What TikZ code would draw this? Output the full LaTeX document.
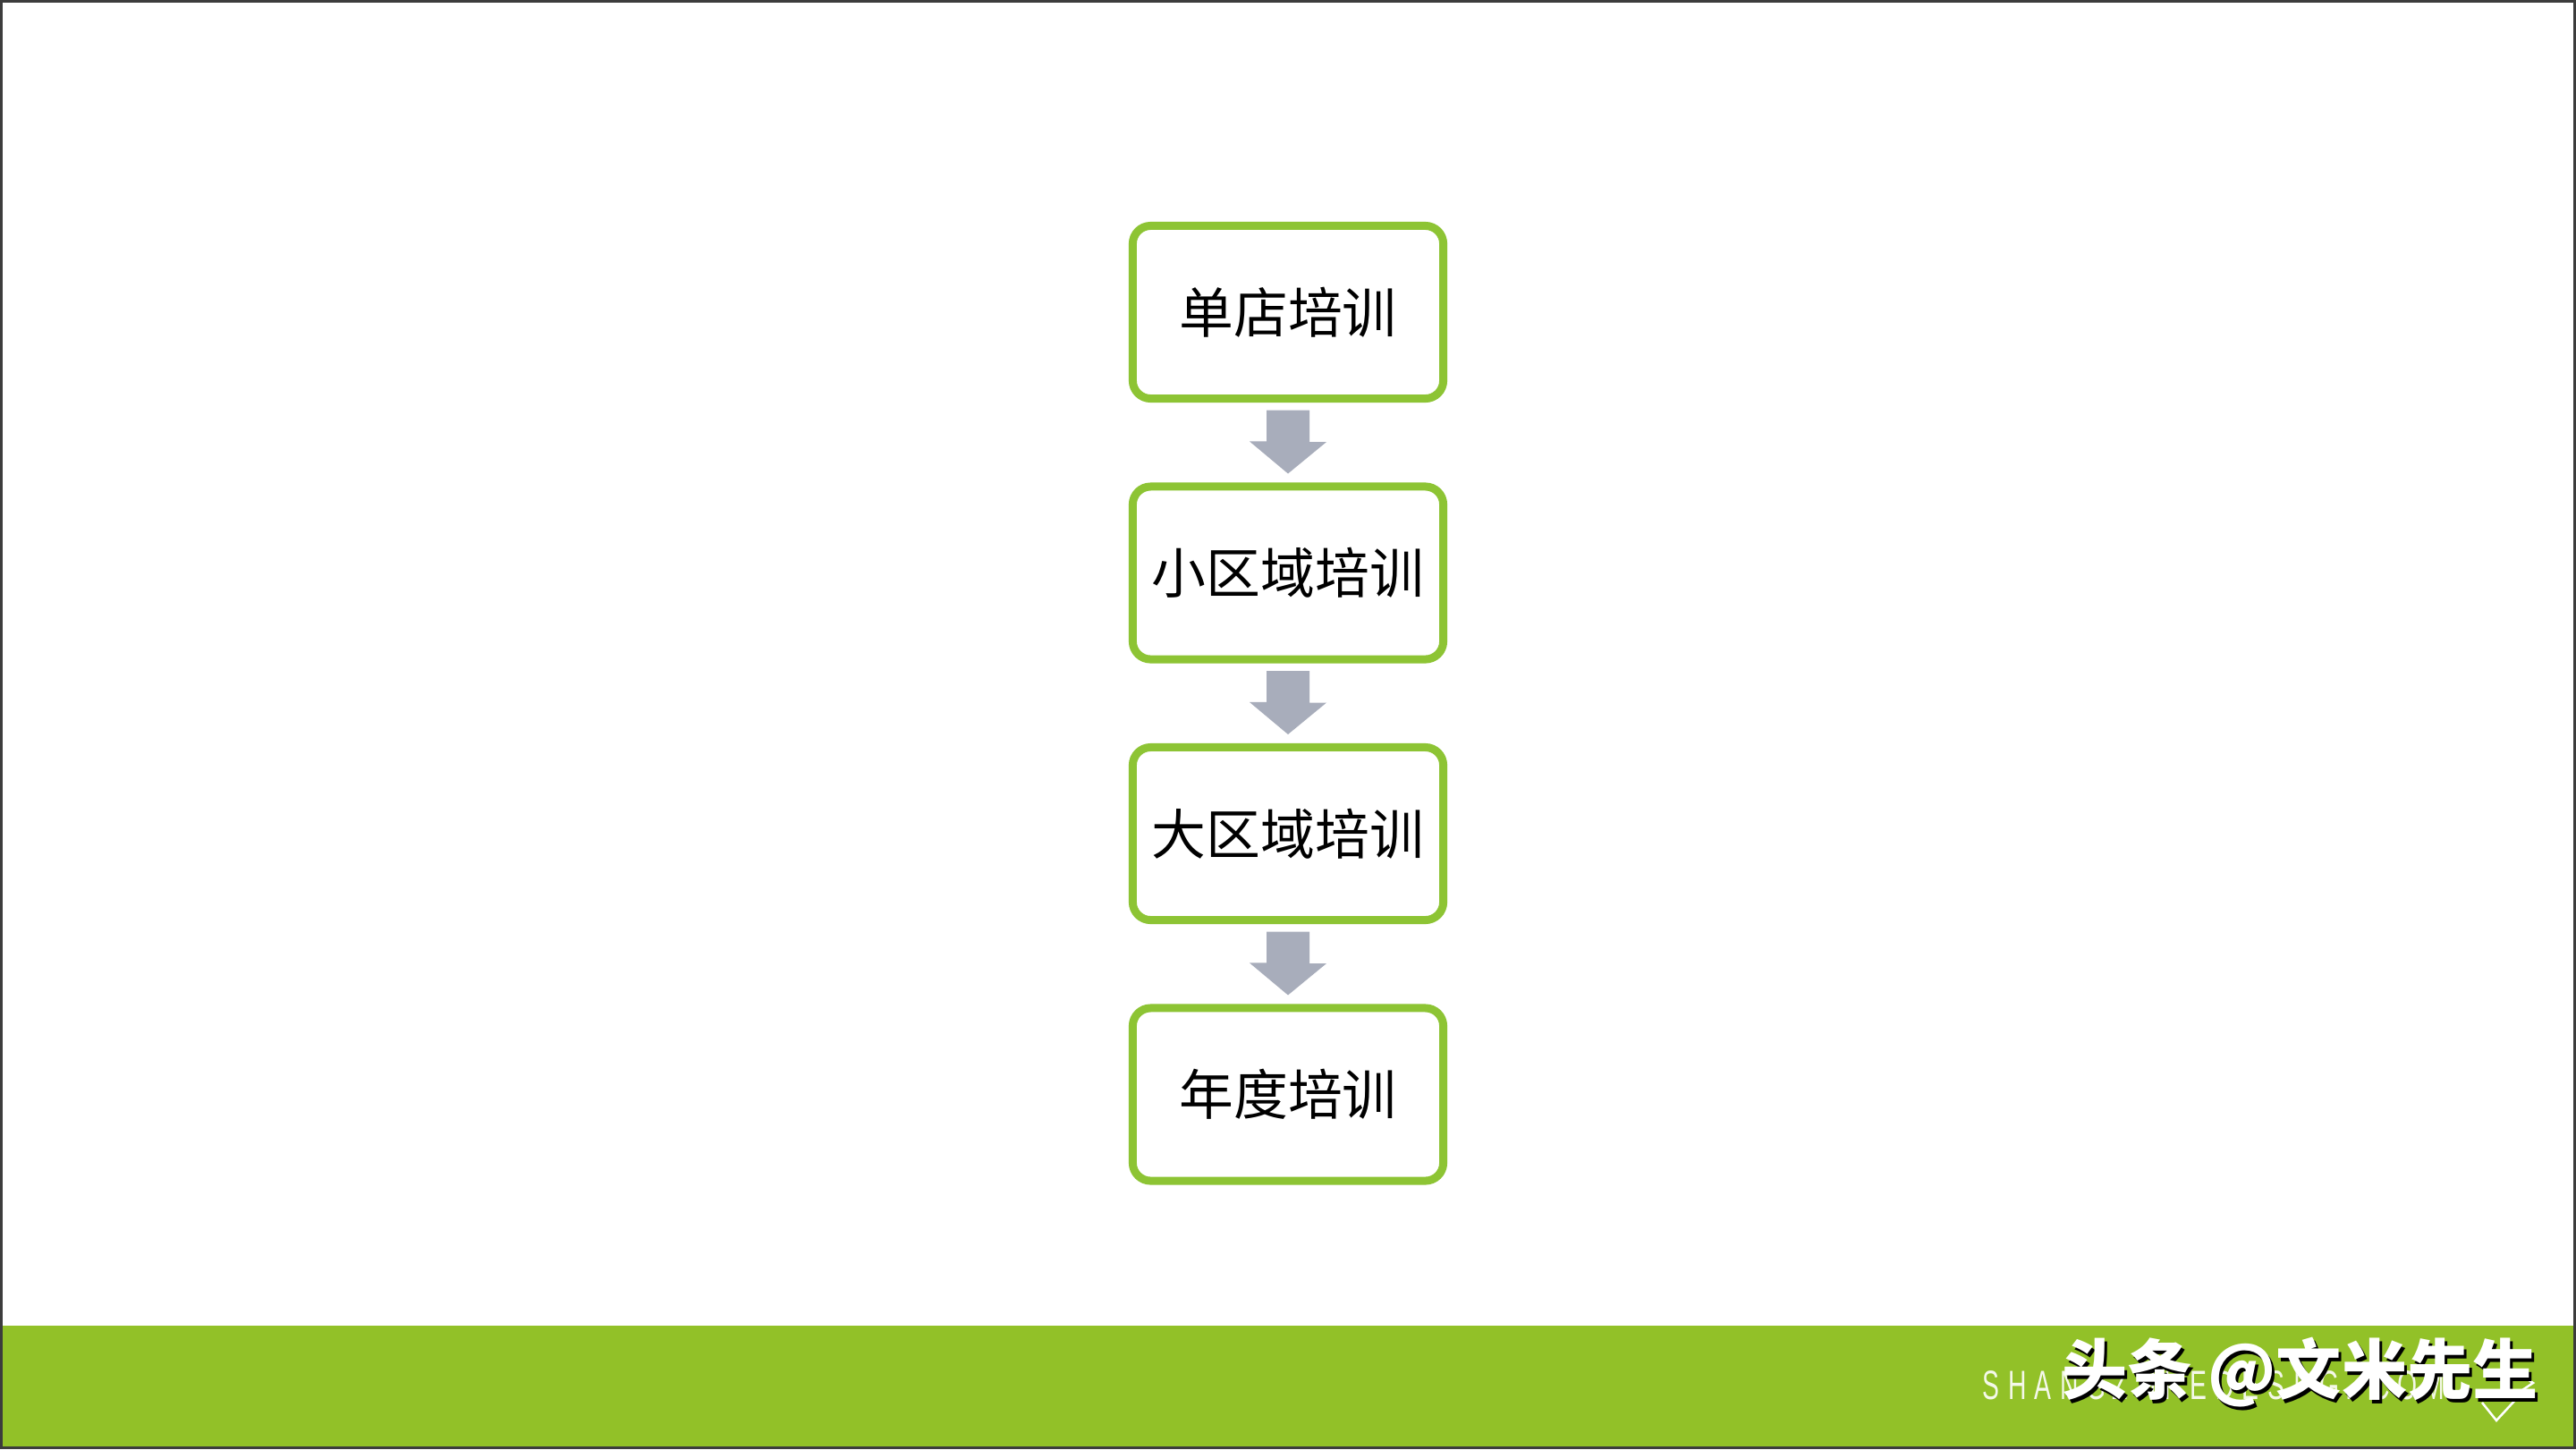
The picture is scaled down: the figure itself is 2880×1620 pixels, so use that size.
\documentclass[tikz,border=0pt]{standalone}
\usepackage{fontspec}
\setmainfont{Liberation Sans}
\newfontfamily\cjk{Noto Sans CJK SC}
\usetikzlibrary{calc}
\definecolor{barg}{RGB}{146,193,40}
\definecolor{boxg}{RGB}{141,196,52}
\definecolor{arrg}{RGB}{168,173,187}
\definecolor{frm}{RGB}{60,60,60}
\newcommand\lb[1]{\makebox[0.29cm][l]{\scalebox{0.62}[1]{#1}}}
\begin{document}
\begin{tikzpicture}[x=0.01cm,y=-0.01cm,
  stage/.style={draw=boxg, line width=0.09cm, rounded corners=0.2cm,
    minimum width=3.47cm, minimum height=1.93cm, inner sep=0pt, fill=white,
    font=\cjk\fontsize{17.3}{20}\selectfont},
  blockarrow/.style={fill=arrg},
  wmark/.style={font=\cjk\bfseries\fontsize{20.8}{24}\selectfont, anchor=west, inner sep=0pt}]
\useasboundingbox (0,0) rectangle (2880,1620);
\fill[white] (0,0) rectangle (2880,1620);
\fill[barg] (0,1482) rectangle (2880,1620);
\draw[frm, line width=0.03cm] (1.5,1.5) rectangle (2878.5,1618.5);

\node[stage] (b1) at (1440,349) {单店培训};
\node[stage] (b2) at (1440,640.5) {小区域培训};
\node[stage] (b3) at (1440,932) {大区域培训};
\node[stage] (b4) at (1440,1223.5) {年度培训};

\foreach \a/\b in {b1/b2,b2/b3,b3/b4}
  \fill[blockarrow] ($(\a.south)+(-24,8.5)$) -- ++(48,0) -- ++(0,35.5) -- ++(19,0)
    -- ($(\b.north)+(0,-10)$) -- ++(-43,-36) -- ++(19,0) -- cycle;

\node[anchor=base west, inner sep=0pt, text=white, opacity=0.9,
  font=\fontsize{13}{15}\selectfont] (bg) at (2216,1564)
  {\lb{S}\lb{H}\lb{A}\lb{N}\lb{G}\lb{Z}\lb{H}\lb{I}\lb{E}\lb{D}\lb{E}\lb{S}\lb{I}\lb{G}\lb{.}\lb{C}\lb{O}\lb{M}};
\draw[white, line width=0.025cm] (2775,1568) -- (2791,1588) -- (2815,1562);
\draw[white, line width=0.025cm] (2820,1538) -- (2832,1546) -- (2820,1554);

\node[wmark, text=black] (wms) at (2308,1538) {头条 @文米先生};
\node[wmark, text=white] (wm) at (2305,1534) {头条 @文米先生};
\end{tikzpicture}
\end{document}
